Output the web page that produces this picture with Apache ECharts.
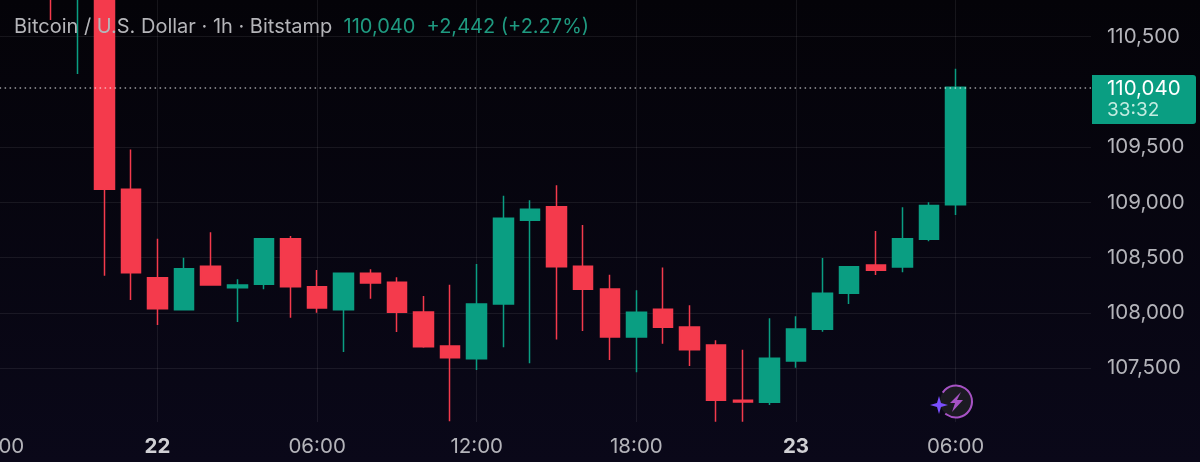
<!DOCTYPE html>
<html>
<head>
    <meta charset="utf-8">
    <title>Bitcoin / U.S. Dollar</title>
    <script src="https://cdn.jsdelivr.net/npm/echarts@6/dist/echarts.min.js"></script>
    <style>
        html, body { margin: 0; padding: 0; background: #05040f; }
        #main { width: 1200px; height: 462px; }
    </style>
</head>
<body>
<div id="main"></div>
<script type="text/javascript">
    // hours counted from the start of the 22nd
    var hours  = [-4, -3, -2, -1, 0, 1, 2, 3, 4, 5, 6, 7, 8, 9, 10, 11, 12, 13, 14, 15, 16, 17, 18, 19, 20, 21, 22, 23, 24, 25, 26, 27, 28, 29, 30];
    var opens  = [111300, 111000, 111500, 109119, 108319, 108030, 108422, 108229, 108259, 108672, 108238, 108030, 108359, 108278, 108009, 107702, 107587, 108081, 108838, 108961, 108422, 108217, 107783, 108033, 107873, 107711, 107211, 107193, 107566, 107853, 108178, 108434, 108416, 108666, 108979];
    var closes = [111000, 111300, 109119, 108364, 108039, 108400, 108253, 108253, 108672, 108238, 108045, 108359, 108271, 108006, 107695, 107596, 108081, 108856, 108938, 108419, 108214, 107783, 108006, 107871, 107668, 107211, 107195, 107590, 107855, 108178, 108419, 108386, 108672, 108972, 110040];
    var lows   = [110650, 110161, 108337, 108118, 107891, 108025, 108250, 107919, 108214, 107957, 108003, 107647, 108129, 107828, 107685, 107021, 107485, 107690, 107545, 107759, 107837, 107575, 107464, 107722, 107521, 107017, 107017, 107168, 107505, 107831, 108081, 108344, 108368, 108648, 108886];
    var highs  = [111400, 111400, 111600, 109478, 108672, 108500, 108730, 108305, 108675, 108696, 108389, 108360, 108395, 108323, 108154, 108256, 108443, 109061, 109019, 109155, 108796, 108346, 108205, 108410, 108070, 107753, 107668, 107952, 107970, 108497, 108422, 108741, 108956, 109001, 110209];

    var priceTicks = [107500, 108000, 108500, 109000, 109500, 110500];
    var timeTicks  = [-6, 0, 6, 12, 18, 24, 30];
    var timeLabels = ['18:00', '22', '06:00', '12:00', '18:00', '23', '06:00'];
    var dayLabels  = ['22', '23'];
    var lastPrice  = 110040;

    var UP = '#0a9e82', DOWN = '#f43a4c', GREY = '#b4b4ba';
    var FONT = 'Inter, "Noto Sans", sans-serif';

    var candles = hours.map(function (h, i) {
        return [h, opens[i], closes[i], lows[i], highs[i]];
    });

    var myChart = echarts.init(document.getElementById('main'));

    var option = {
        animation: false,
        backgroundColor: {
            type: 'linear', x: 0, y: 0, x2: 0, y2: 1,
            colorStops: [{offset: 0, color: '#040308'}, {offset: 1, color: '#0a0819'}]
        },
        title: {
            left: 9,
            top: 12,
            text: '{a|Bitcoin / U.S. Dollar · 1h · Bitstamp}{b|  110,040  +2,442 (+2.27%)}',
            textStyle: {
                rich: {
                    a: {fontFamily: FONT, fontSize: 20, fontWeight: 'normal', color: '#b5b5b9'},
                    b: {fontFamily: FONT, fontSize: 20, fontWeight: 'normal', color: '#1f9a80'}
                }
            }
        },
        grid: {left: -15.4, top: 0, width: 1106.4, height: 422, outerBoundsMode: 'none'},
        xAxis: {
            type: 'value',
            min: -6.5,
            max: 35.09,
            axisLine: {show: false},
            axisTick: {show: false, customValues: timeTicks},
            splitLine: {show: true, lineStyle: {color: 'rgba(255,255,255,0.075)', width: 1}},
            axisLabel: {
                customValues: timeTicks,
                margin: 14,
                fontFamily: FONT,
                fontSize: 20.5,
                color: GREY,
                formatter: function (v) {
                    var s = timeLabels[timeTicks.indexOf(v)];
                    return dayLabels.indexOf(s) >= 0 ? '{day|' + s + '}' : s;
                },
                rich: {day: {fontFamily: FONT, fontSize: 20.5, fontWeight: 'bold', color: '#d0d0d4'}}
            }
        },
        yAxis: {
            type: 'value',
            position: 'right',
            min: 107014,
            max: 110830,
            axisLine: {show: false},
            axisTick: {show: false, customValues: priceTicks},
            splitLine: {show: true, lineStyle: {color: 'rgba(255,255,255,0.075)', width: 1}},
            axisLabel: {
                customValues: priceTicks,
                margin: 16,
                fontFamily: FONT,
                fontSize: 20.5,
                color: GREY,
                formatter: function (v) { return v.toLocaleString('en-US'); }
            }
        },
        series: [{
            type: 'candlestick',
            barWidth: 20,
            data: candles,
            itemStyle: {
                color: UP,
                color0: DOWN,
                borderColor: UP,
                borderColor0: DOWN,
                borderWidth: 1.5
            },
            markLine: {
                silent: true,
                symbol: 'none',
                label: {show: false},
                lineStyle: {color: 'rgba(255,255,255,0.6)', type: [1.5, 3.5], width: 1.5},
                data: [{yAxis: lastPrice}]
            }
        }],
        graphic: [
            // last price tag
            {type: 'rect', z: 10, shape: {x: 1092, y: 75, width: 104, height: 49, r: [0, 3, 3, 0]}, style: {fill: UP}},
            {type: 'text', z: 11, x: 1107, y: 78, style: {text: '110,040', fontFamily: FONT, fontSize: 20.5, fill: '#ffffff'}},
            {type: 'text', z: 11, x: 1107, y: 101, style: {text: '33:32', fontFamily: FONT, fontSize: 19, fill: '#c4ece1'}},
            // lightning badge
            {type: 'circle', z: 10, shape: {cx: 956, cy: 401.5, r: 16}, style: {fill: '#1b1a22', stroke: 'none'}},
            {type: 'arc', z: 11, shape: {cx: 956, cy: 401.5, r: 16, startAngle: -2.55, endAngle: 2.3, clockwise: true},
                style: {fill: 'none', stroke: '#a652c4', lineWidth: 2}},
            {type: 'polygon', z: 11, shape: {points: [[961, 392], [950, 403], [955, 403], [952, 412], [963, 400], [957, 400]]},
                style: {fill: '#a652c4'}},
            {type: 'polygon', z: 12, shape: {points: [[939, 396], [941, 403], [948, 405], [941, 407], [939, 414], [937, 407], [930, 405], [937, 403]]},
                style: {fill: '#7a4fff'}}
        ]
    };

    myChart.setOption(option);
</script>
</body>
</html>
